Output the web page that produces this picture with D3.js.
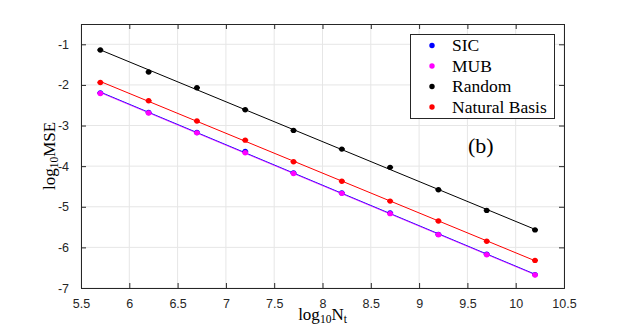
<!DOCTYPE html>
<html>
<head>
<meta charset="utf-8">
<script src="https://cdn.jsdelivr.net/npm/d3@7"></script>
<style>
  body { margin: 0; background: #fff; }
  .tick text { font-family: "Liberation Sans", Arial, sans-serif; font-size: 12.5px; fill: #262626; }
</style>
</head>
<body>
<div id="grafica"></div>
<script>
// log10 N_t sampled values
const logNt = [5.7, 6.2, 6.7, 7.2, 7.7, 8.2, 8.7, 9.2, 9.7, 10.2];

// log10 MSE per measurement scheme
const sic     = [-2.20, -2.68, -3.17, -3.64, -4.17, -4.66, -5.15, -5.68, -6.17, -6.67];
const mub     = [-2.21, -2.69, -3.18, -3.67, -4.18, -4.67, -5.17, -5.69, -6.18, -6.68];
const random  = [-1.14, -1.68, -2.07, -2.61, -3.12, -3.58, -4.03, -4.58, -5.09, -5.57];
const natural = [-1.94, -2.39, -2.89, -3.36, -3.89, -4.37, -4.86, -5.35, -5.85, -6.32];

const xTicks = [5.5, 6, 6.5, 7, 7.5, 8, 8.5, 9, 9.5, 10, 10.5];
const yTicks = [-7, -6, -5, -4, -3, -2, -1];

const series = [
  { name: "SIC", color: "#0000ff", values: sic, lineOpacity: 1 },
  { name: "MUB", color: "#ff00ff", values: mub, lineOpacity: 0.65 },
  { name: "Random", color: "#000000", values: random, lineOpacity: 1 },
  { name: "Natural Basis", color: "#ff0000", values: natural, lineOpacity: 1 }
];

const width = 623, height = 329;
const margin = { left: 81, right: 59, top: 24, bottom: 41 };

const svg = d3.select("#grafica").append("svg")
  .attr("width", width)
  .attr("height", height);

const x = d3.scaleLinear().domain([5.5, 10.5]).range([margin.left, width - margin.right]);
const y = d3.scaleLinear().domain([-7, -0.5]).range([height - margin.bottom, margin.top]);

// grid
const g = svg.append("g");
g.selectAll(".gx").data(xTicks).enter().append("line")
  .attr("x1", d => x(d)).attr("x2", d => x(d))
  .attr("y1", y(-7)).attr("y2", y(-0.5))
  .attr("stroke", "#e6e6e6").attr("stroke-width", 1);
g.selectAll(".gy").data(yTicks).enter().append("line")
  .attr("x1", x(5.5)).attr("x2", x(10.5))
  .attr("y1", d => y(d)).attr("y2", d => y(d))
  .attr("stroke", "#e6e6e6").attr("stroke-width", 1);

// axes (ticks inward, box)
const ejeX = svg.append("g")
  .attr("transform", `translate(0,${y(-7)})`)
  .call(d3.axisBottom(x).tickValues(xTicks).tickSize(-5).tickPadding(11).tickFormat(d3.format("")));
const ejeXtop = svg.append("g")
  .attr("transform", `translate(0,${y(-0.5)})`)
  .call(d3.axisTop(x).tickValues(xTicks).tickSize(-5).tickFormat(""));
const ejeY = svg.append("g")
  .attr("transform", `translate(${x(5.5)},0)`)
  .call(d3.axisLeft(y).tickValues(yTicks).tickSize(-5).tickPadding(12).tickFormat(d3.format("")));
const ejeYright = svg.append("g")
  .attr("transform", `translate(${x(10.5)},0)`)
  .call(d3.axisRight(y).tickValues(yTicks).tickSize(-5).tickFormat(""));

[ejeX, ejeXtop, ejeY, ejeYright].forEach(a => {
  a.select(".domain").attr("stroke", "#262626").attr("stroke-width", 1);
  a.selectAll(".tick line").attr("stroke", "#262626");
});
ejeY.selectAll(".tick text").text(d => "-" + Math.abs(d));

// fitted lines
function ajuste(vals) {
  const mx = d3.mean(logNt), my = d3.mean(vals);
  let num = 0, den = 0;
  logNt.forEach((xv, i) => { num += (xv - mx) * (vals[i] - my); den += (xv - mx) ** 2; });
  const m = num / den;
  return [logNt[0], logNt[logNt.length - 1]].map(xv => [xv, my + m * (xv - mx)]);
}

const linea = d3.line().x(d => x(d[0])).y(d => y(d[1]));

series.forEach(s => {
  svg.append("path")
    .datum(ajuste(s.values))
    .attr("d", linea)
    .attr("fill", "none")
    .attr("stroke", s.color)
    .attr("stroke-opacity", s.lineOpacity)
    .attr("stroke-width", 1);
});

// points with small error bars
series.forEach(s => {
  const pg = svg.append("g");
  const pts = logNt.map((xv, i) => [xv, s.values[i]]);
  pg.selectAll("line.err").data(pts).enter().append("line")
    .attr("x1", d => x(d[0]) - 3).attr("x2", d => x(d[0]) + 3)
    .attr("y1", d => y(d[1])).attr("y2", d => y(d[1]))
    .attr("stroke", s.color).attr("stroke-width", 1.5);
  pg.selectAll("circle").data(pts).enter().append("circle")
    .attr("cx", d => x(d[0])).attr("cy", d => y(d[1]))
    .attr("r", 2.7).attr("fill", s.color);
});

// legend
const leyenda = svg.append("g");
leyenda.append("rect")
  .attr("x", 410.5).attr("y", 34.5).attr("width", 144).attr("height", 84)
  .attr("fill", "#fff").attr("stroke", "#262626").attr("stroke-width", 1);
series.forEach((s, i) => {
  const yy = 45.5 + i * 20.5;
  leyenda.append("circle").attr("cx", 432).attr("cy", yy).attr("r", 2.7).attr("fill", s.color);
  leyenda.append("text")
    .attr("x", 452).attr("y", yy + 5.5)
    .attr("font-family", "'Liberation Serif', 'Times New Roman', serif")
    .attr("font-size", 17.5)
    .attr("fill", "#000")
    .text(s.name);
});

// panel tag
svg.append("text")
  .attr("x", 468).attr("y", 153)
  .attr("font-family", "'Liberation Serif', 'Times New Roman', serif")
  .attr("font-size", 22)
  .attr("fill", "#000")
  .text("(b)");

// axis labels
const xl = svg.append("text")
  .attr("x", x(8)).attr("y", 320)
  .attr("text-anchor", "middle")
  .attr("font-family", "'Liberation Serif', 'Times New Roman', serif")
  .attr("font-size", 17)
  .attr("fill", "#000");
xl.append("tspan").text("log");
xl.append("tspan").attr("font-size", 11.5).attr("dy", 3).text("10");
xl.append("tspan").attr("dy", -3).text("N");
xl.append("tspan").attr("font-size", 11.5).attr("dy", 3).text("t");

const yl = svg.append("text")
  .attr("transform", `translate(55,${y(-3.75)}) rotate(-90)`)
  .attr("text-anchor", "middle")
  .attr("font-family", "'Liberation Serif', 'Times New Roman', serif")
  .attr("font-size", 17)
  .attr("fill", "#000");
yl.append("tspan").text("log");
yl.append("tspan").attr("font-size", 11.5).attr("dy", 3).text("10");
yl.append("tspan").attr("dy", -3).text("MSE");
</script>
</body>
</html>
